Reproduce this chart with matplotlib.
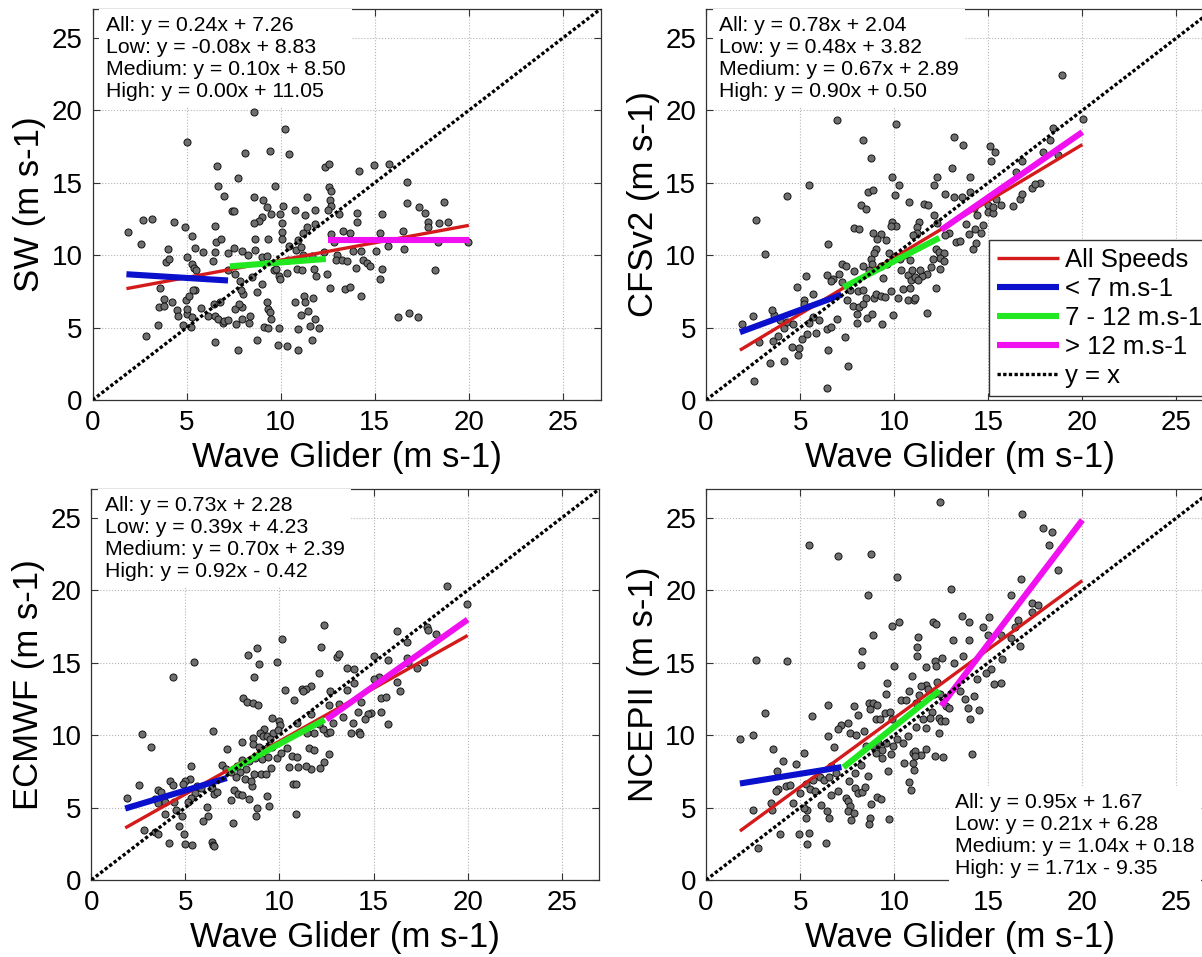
import numpy as np
import matplotlib
matplotlib.use('Agg')
import matplotlib.pyplot as plt

plt.rcParams['font.family'] = ['Liberation Sans', 'DejaVu Sans']

OUT_PNG = 'out.png'

XLABEL = 'Wave Glider (m s-1)'
YLABELS = ['SW (m s-1)', 'CFSv2 (m s-1)', 'ECMWF (m s-1)', 'NCEPII (m s-1)']
FIT_NAMES = ['All', 'Low', 'Medium', 'High']
LEGEND_LABELS = ['All Speeds', '< 7 m.s-1', '7 - 12 m.s-1', '> 12 m.s-1', 'y = x']
TICKS = [0, 5, 10, 15, 20, 25]

# x-range of each fitted segment: all, low, medium, high
FIT_RANGES = [(1.8, 20.0), (1.8, 7.2), (7.3, 12.4), (12.5, 20.0)]

# slope, intercept per segment (all, low, medium, high)
sw_fit = [(0.24, 7.26), (-0.08, 8.83), (0.10, 8.50), (0.00, 11.05)]
cfs_fit = [(0.78, 2.04), (0.48, 3.82), (0.67, 2.89), (0.90, 0.50)]
ecm_fit = [(0.73, 2.28), (0.39, 4.23), (0.70, 2.39), (0.92, -0.42)]
ncep_fit = [(0.95, 1.67), (0.21, 6.28), (1.04, 0.18), (1.71, -9.35)]

# (wave glider, model) pairs
sw_pts = [
    (8.6, 19.9), (10.21, 18.69), (5.0, 17.83), (8.1, 17.07), (9.41, 17.21), (10.43, 16.96), (6.61, 16.13),
    (7.74, 15.3), (6.65, 14.79), (9.72, 14.75), (7.0, 14.12), (8.56, 13.99), (9.08, 13.8), (7.39, 13.04),
    (7.5, 13.04), (9.27, 13.32), (10.12, 13.41), (9.47, 12.86), (9.95, 12.86), (8.99, 12.63), (8.83, 12.37),
    (8.58, 12.19), (10.05, 12.19), (10.74, 13.13), (2.7, 12.42), (3.14, 12.47), (4.33, 12.28), (1.9, 11.57),
    (4.93, 11.96), (6.51, 12.05), (2.59, 10.74), (5.28, 11.34), (6.56, 10.92), (6.81, 11.11), (8.62, 11.15),
    (9.34, 11.15), (10.05, 11.59), (10.05, 11.15), (10.9, 11.04), (11.19, 11.5), (3.99, 10.41), (5.0, 9.88),
    (5.46, 10.53), (5.89, 10.21), (6.49, 10.25), (7.22, 10.16), (7.5, 10.53), (7.94, 10.3), (8.63, 10.39),
    (8.28, 10.0), (8.99, 9.88), (9.27, 9.93), (3.88, 9.54), (4.08, 9.72), (5.3, 9.38), (6.38, 9.59),
    (5.39, 9.15), (5.5, 9.01), (3.58, 7.76), (5.44, 7.58), (5.32, 7.63), (4.98, 6.89), (5.14, 7.19),
    (3.81, 6.98), (3.53, 6.43), (3.79, 6.47), (4.24, 6.75), (4.47, 6.24), (4.56, 5.78), (5.0, 5.97),
    (5.04, 6.31), (5.27, 5.74), (5.76, 6.38), (6.15, 5.81), (6.44, 6.66), (6.77, 6.77), (6.51, 5.78),
    (6.68, 5.62), (6.95, 5.35), (6.99, 5.46), (7.2, 5.55), (5.25, 5.05), (4.82, 5.21), (3.49, 5.21),
    (2.85, 4.42), (6.51, 4.01), (7.73, 3.43), (7.62, 5.28), (7.93, 5.62), (8.33, 5.32), (8.37, 5.81),
    (7.59, 6.27), (7.96, 6.41), (7.78, 6.66), (8.01, 7.35), (7.85, 8.23), (7.89, 7.58), (8.76, 7.47),
    (9.27, 6.8), (9.31, 6.31), (9.45, 6.08), (9.49, 5.62), (9.1, 5.05), (9.31, 5.0), (8.76, 4.17),
    (9.89, 5.0), (9.84, 3.78), (10.35, 3.71), (10.92, 3.43), (10.76, 6.77), (11.06, 5.85), (10.94, 4.93),
    (9.63, 8.96), (9.89, 8.55), (9.96, 8.36), (10.32, 8.8), (9.77, 9.08), (10.85, 9.08), (10.41, 9.65),
    (11.15, 8.96), (11.17, 10.02), (10.83, 10.39), (10.44, 10.62), (11.1, 10.58), (8.46, 8.5), (7.57, 8.73),
    (7.22, 8.96), (9.0, 8.04), (12.35, 16.11), (12.58, 16.29), (14.16, 15.81), (14.95, 16.24), (15.77, 16.27),
    (16.71, 15.05), (12.56, 14.72), (12.65, 14.42), (11.41, 13.99), (12.6, 13.8), (12.67, 13.41), (11.81, 13.11),
    (11.28, 12.76), (12.51, 13.11), (13.11, 12.86), (14.06, 12.93), (15.41, 12.86), (14.04, 12.3), (16.74, 13.62),
    (17.35, 13.34), (17.69, 12.93), (18.68, 13.69), (17.83, 12.3), (17.83, 11.96), (18.42, 12.19), (18.88, 12.26),
    (11.83, 12.12), (11.41, 11.96), (12.65, 11.45), (13.29, 11.68), (13.67, 11.5), (15.28, 11.5), (16.48, 11.68),
    (18.35, 10.92), (19.98, 10.92), (12.83, 10.92), (12.97, 10.0), (12.92, 9.65), (13.86, 10.28), (14.25, 10.28),
    (15.05, 10.28), (15.68, 10.65), (16.58, 10.44), (13.27, 9.65), (13.54, 9.59), (13.99, 9.15), (14.4, 9.65),
    (14.58, 9.49), (14.76, 9.24), (15.41, 9.08), (15.28, 8.36), (18.2, 8.99), (12.62, 7.72), (13.4, 7.67),
    (13.67, 7.81), (14.25, 7.17), (16.25, 5.71), (16.81, 6.04), (17.31, 5.74), (11.67, 9.93), (12.3, 10.23),
    (12.44, 8.73), (11.76, 9.08), (11.89, 8.55), (11.25, 7.21), (11.28, 6.77), (11.71, 7.03), (11.46, 6.15),
    (11.83, 5.58), (11.57, 5.14), (12.06, 5.0), (11.69, 4.17),
]

cfs_pts = [
    (6.98, 19.35), (10.11, 19.08), (8.32, 17.92), (8.75, 16.74), (9.88, 15.38), (10.25, 14.83), (5.48, 14.83),
    (4.3, 14.11), (8.63, 14.34), (8.86, 14.5), (10.05, 14.18), (10.77, 13.67), (8.25, 13.44), (8.5, 13.21),
    (2.68, 12.4), (7.86, 11.89), (8.11, 11.78), (8.88, 11.52), (9.3, 11.45), (9.91, 12.26), (10.12, 12.03),
    (9.82, 12.01), (9.07, 11.09), (9.57, 11.02), (6.46, 10.74), (3.14, 10.09), (9.02, 10.46), (8.93, 10.12),
    (8.77, 9.72), (9.75, 10.12), (9.98, 9.88), (10.3, 9.72), (10.54, 10.0), (8.8, 9.38), (8.66, 9.01),
    (8.34, 9.26), (9.32, 9.26), (9.64, 9.4), (9.43, 8.43), (10.36, 8.96), (10.71, 8.61), (10.82, 9.7),
    (10.95, 8.96), (7.21, 9.4), (7.46, 9.26), (7.86, 8.89), (7.04, 8.71), (6.75, 8.38), (6.45, 8.64),
    (6.64, 8.24), (5.3, 8.59), (4.86, 7.78), (5.68, 7.34), (5.23, 6.93), (5.23, 6.65), (7.25, 8.13),
    (7.63, 7.58), (7.5, 6.93), (8.07, 7.53), (8.36, 7.62), (8.5, 7.02), (8.93, 7.07), (9.04, 7.34),
    (9.29, 7.21), (9.52, 7.11), (9.84, 7.51), (10.18, 7.04), (10.48, 7.64), (10.86, 7.74), (10.91, 8.27),
    (10.73, 6.88), (7.82, 6.47), (8.14, 6.42), (8.36, 6.65), (8.04, 5.96), (8.54, 5.66), (8.82, 5.96),
    (9.95, 5.89), (9.36, 5.27), (8.04, 5.29), (6.95, 5.59), (6.43, 4.9), (6.63, 5.01), (7.39, 4.32),
    (6.48, 3.42), (5.48, 5.33), (5.82, 4.6), (5.39, 4.55), (5.09, 4.2), (4.93, 3.58), (4.55, 3.65),
    (4.91, 3.12), (3.55, 4.11), (3.39, 2.59), (4.13, 2.68), (2.54, 1.29), (6.45, 0.83), (7.52, 2.33),
    (3.82, 4.43), (4.14, 4.97), (3.61, 5.84), (3.48, 6.19), (2.5, 5.8), (2.82, 4.04), (1.93, 5.27),
    (3.93, 5.5), (4.29, 5.38), (4.63, 5.27), (5.71, 5.73), (5.98, 5.5), (18.93, 22.47), (20.04, 19.4),
    (13.16, 18.13), (13.68, 17.64), (15.07, 17.55), (15.34, 17.16), (15.12, 16.47), (18.43, 18.75), (18.3, 17.94),
    (17.89, 17.11), (18.7, 16.93), (16.82, 16.49), (16.5, 15.73), (13.09, 16.05), (14.04, 15.43), (12.27, 15.38),
    (12.14, 14.85), (12.68, 14.2), (13.16, 14.04), (13.63, 14.04), (14.02, 14.34), (14.98, 13.49), (15.41, 13.86),
    (15.66, 13.46), (16.3, 13.42), (16.7, 13.86), (16.79, 14.2), (17.34, 14.67), (17.75, 14.99), (17.5, 14.9),
    (14.23, 13.23), (14.39, 12.77), (14.73, 12.1), (15.0, 12.98), (15.23, 12.93), (15.27, 13.35), (13.84, 12.15),
    (14.29, 11.78), (14.59, 11.55), (13.96, 11.45), (14.2, 10.42), (14.34, 10.85), (13.3, 10.9), (13.48, 10.97),
    (12.89, 11.5), (12.68, 11.39), (11.61, 13.51), (11.79, 13.46), (12.13, 12.77), (12.27, 12.19), (11.34, 12.31),
    (11.23, 11.96), (11.2, 11.5), (11.02, 11.39), (12.23, 10.46), (12.39, 10.23), (12.64, 10.12), (12.45, 9.82),
    (12.63, 9.58), (12.05, 9.77), (11.96, 9.19), (12.41, 9.05), (11.73, 8.71), (11.48, 8.55), (11.38, 8.96),
    (11.11, 8.5), (11.29, 8.27), (12.23, 7.76), (11.07, 6.88), (11.13, 7.07), (11.75, 6.0),
]

ecm_pts = [
    (10.12, 16.62), (8.81, 16.0), (8.35, 15.52), (8.9, 14.94), (9.89, 15.06), (5.48, 15.08), (4.32, 13.98),
    (8.63, 14.02), (8.08, 12.53), (8.26, 12.32), (8.6, 12.21), (8.88, 12.07), (10.27, 13.13), (10.79, 12.44),
    (11.21, 13.17), (9.59, 11.17), (9.95, 10.97), (10.05, 10.71), (10.91, 10.87), (2.69, 10.11), (6.49, 10.28),
    (3.15, 9.17), (7.22, 9.03), (8.01, 9.56), (8.59, 9.79), (9.17, 10.41), (8.96, 10.16), (9.11, 9.95),
    (9.36, 9.95), (9.63, 10.18), (9.93, 10.37), (9.48, 9.7), (8.61, 9.38), (8.93, 9.15), (9.31, 9.1),
    (9.59, 9.17), (9.88, 8.41), (10.09, 8.8), (10.39, 9.08), (10.69, 8.57), (10.94, 8.46), (10.52, 7.82),
    (10.96, 7.77), (10.73, 6.62), (10.87, 6.62), (10.87, 4.55), (8.03, 8.3), (8.38, 8.23), (8.7, 8.41),
    (9.09, 8.34), (9.38, 8.46), (9.56, 7.75), (9.04, 7.29), (9.27, 7.29), (8.65, 7.33), (8.24, 7.66),
    (7.92, 7.47), (7.69, 7.1), (7.4, 7.43), (6.96, 7.93), (7.14, 7.66), (8.52, 6.51), (7.56, 6.21),
    (7.79, 5.95), (8.0, 5.86), (8.38, 5.59), (7.4, 5.54), (8.81, 4.99), (9.43, 5.1), (9.36, 5.82),
    (8.74, 4.41), (7.53, 3.93), (5.28, 7.89), (5.27, 6.97), (5.62, 6.51), (5.85, 6.34), (6.42, 6.32),
    (6.53, 5.93), (6.69, 6.05), (5.5, 6.0), (5.32, 5.66), (5.14, 5.36), (5.0, 6.85), (4.88, 6.62),
    (4.2, 6.85), (4.32, 6.55), (3.54, 6.23), (3.68, 6.05), (3.4, 5.59), (3.54, 5.29), (2.54, 6.57),
    (1.87, 5.63), (3.93, 4.55), (4.48, 4.85), (6.14, 5.01), (6.21, 4.39), (5.91, 4.09), (2.81, 3.45),
    (3.36, 3.29), (3.54, 3.17), (4.11, 2.55), (4.93, 3.17), (4.96, 2.48), (5.37, 2.41), (6.42, 2.64),
    (6.48, 2.41), (6.53, 2.32), (4.82, 4.44), (4.64, 3.75), (4.38, 5.36), (3.93, 5.36), (7.76, 7.89),
    (8.17, 6.97), (8.51, 6.85), (18.88, 20.28), (19.98, 19.08), (12.39, 17.61), (12.23, 16.09), (13.05, 15.38),
    (13.14, 15.61), (12.11, 14.32), (13.61, 14.67), (13.96, 14.55), (13.96, 13.63), (15.02, 15.47), (15.75, 15.2),
    (16.25, 17.2), (16.8, 16.44), (17.82, 17.49), (17.89, 17.26), (18.32, 16.97), (16.77, 15.31), (16.84, 14.97),
    (17.29, 14.67), (17.68, 15.06), (16.25, 13.7), (16.41, 13.08), (15.3, 13.98), (15.02, 13.86), (15.41, 12.53),
    (15.68, 12.64), (15.41, 11.63), (15.75, 10.8), (14.86, 11.54), (14.68, 11.47), (14.52, 11.1), (14.16, 11.63),
    (14.34, 12.32), (13.57, 13.1), (13.14, 12.14), (13.39, 11.24), (13.91, 10.87), (13.8, 10.16), (14.23, 10.25),
    (14.3, 10.09), (12.68, 13.06), (12.63, 12.11), (12.82, 10.83), (12.5, 10.18), (12.66, 10.25), (12.32, 10.41),
    (12.11, 10.76), (11.84, 10.18), (11.7, 11.49), (11.68, 13.38), (11.39, 13.22), (11.25, 13.06), (11.46, 10.14),
    (11.55, 9.08), (11.84, 8.99), (12.63, 8.69), (12.34, 8.16), (12.16, 7.75), (11.68, 7.66), (11.43, 7.89),
]

ncep_pts = [
    (5.45, 23.13), (7.0, 22.38), (8.78, 22.5), (10.14, 20.93), (8.62, 19.7), (9.89, 17.57), (10.25, 17.8),
    (8.87, 16.88), (8.31, 15.81), (8.26, 14.86), (10.0, 14.79), (2.63, 15.21), (4.28, 15.14), (9.62, 13.63),
    (10.95, 14.05), (9.58, 12.87), (10.81, 13.06), (10.36, 12.41), (10.61, 12.45), (11.2, 12.25), (8.65, 12.22),
    (8.87, 12.22), (9.08, 12.11), (8.7, 11.78), (9.05, 11.09), (9.23, 11.11), (9.5, 11.55), (9.77, 11.6),
    (9.89, 11.09), (7.84, 12.04), (8.09, 11.37), (5.63, 11.32), (6.47, 12.06), (3.11, 11.55), (7.19, 10.72),
    (6.99, 10.44), (7.55, 10.86), (7.64, 10.12), (7.97, 9.98), (8.42, 10.28), (6.49, 9.93), (6.82, 9.17),
    (1.78, 9.7), (2.48, 9.98), (3.54, 9.03), (5.23, 8.8), (4.78, 7.99), (4.08, 8.24), (3.76, 7.5),
    (3.81, 6.3), (4.24, 6.46), (4.44, 6.53), (3.47, 5.3), (3.51, 4.84), (2.48, 4.84), (2.77, 2.22),
    (3.92, 3.17), (4.96, 3.19), (5.47, 3.22), (5.34, 2.48), (6.4, 2.57), (5.29, 4.31), (5.36, 4.84),
    (5.23, 4.95), (5.0, 6.0), (5.31, 6.64), (5.5, 6.3), (5.67, 6.92), (5.81, 6.11), (6.08, 7.08),
    (6.26, 6.92), (6.51, 7.08), (6.64, 7.85), (6.89, 7.38), (6.99, 6.11), (6.65, 5.88), (6.13, 5.19),
    (6.44, 4.79), (6.53, 4.26), (7.43, 5.65), (7.54, 5.42), (7.64, 5.14), (7.54, 4.79), (7.88, 4.61),
    (7.73, 4.14), (7.91, 6.34), (8.07, 6.0), (8.27, 6.04), (8.44, 6.41), (8.62, 7.2), (8.78, 5.25),
    (8.69, 4.26), (8.65, 3.84), (9.08, 5.72), (9.32, 5.58), (9.73, 4.19), (9.68, 7.5), (9.35, 8.4),
    (9.35, 9.0), (9.82, 8.7), (9.58, 9.47), (9.95, 9.24), (10.13, 9.75), (9.14, 9.47), (8.87, 9.24),
    (9.05, 8.77), (8.51, 9.24), (8.24, 7.96), (7.91, 7.38), (7.61, 6.81), (10.52, 8.08), (10.81, 6.74),
    (10.9, 6.18), (11.03, 7.62), (11.0, 8.77), (10.49, 9.47), (10.76, 9.93), (4.64, 5.3), (3.74, 6.11),
    (12.42, 26.13), (16.81, 25.28), (17.9, 24.33), (18.39, 24.05), (18.21, 23.13), (18.69, 21.39), (13.03, 20.12),
    (16.74, 20.81), (16.2, 19.65), (17.35, 19.12), (17.67, 18.96), (17.31, 18.5), (13.6, 18.22), (12.06, 17.8),
    (12.2, 17.69), (13.96, 17.8), (15.02, 18.17), (14.71, 17.45), (16.59, 17.92), (16.42, 17.45), (11.25, 16.81),
    (11.23, 16.11), (11.22, 15.49), (13.12, 16.6), (13.96, 16.6), (15.0, 16.94), (15.66, 16.88), (16.2, 16.71),
    (16.67, 16.18), (13.64, 15.49), (13.19, 14.98), (12.53, 15.32), (12.19, 15.12), (12.24, 14.75), (11.7, 14.68),
    (15.75, 15.25), (15.16, 14.56), (14.89, 14.28), (14.39, 13.91), (15.32, 13.52), (15.68, 13.63), (13.51, 13.08),
    (13.76, 12.48), (14.23, 12.71), (13.92, 11.85), (14.01, 11.09), (14.52, 11.74), (12.26, 13.7), (11.7, 13.47),
    (11.4, 13.36), (11.81, 13.17), (12.11, 12.82), (12.46, 12.82), (12.74, 12.01), (12.92, 11.9), (11.31, 12.8),
    (11.16, 12.25), (12.03, 11.62), (11.92, 11.2), (11.51, 11.13), (11.7, 10.49), (11.16, 10.56), (12.38, 11.2),
    (12.47, 10.97), (12.71, 10.99), (12.37, 10.16), (12.19, 8.54), (12.62, 8.47), (14.14, 8.7), (11.67, 9.05),
    (11.4, 8.66), (11.09, 8.89), (11.13, 8.59), (11.0, 8.08),
]

FIT_COLORS = ['#d41a1a', '#0a10cc', '#22e822', '#f010f0']
FIT_WIDTHS = [2.4, 4.4, 4.4, 4.4]


def fit_text(fit):
    rows = []
    for name, (a, b) in zip(FIT_NAMES, fit):
        sign = '+' if b >= 0 else '-'
        rows.append(f'{name}: y = {a:.2f}x {sign} {abs(b):.2f}')
    return '\n'.join(rows)


def draw_panel(ax, pts, fit, ylabel):
    xy = np.array(pts)
    ax.scatter(xy[:, 0], xy[:, 1], s=26, c='#6e6e6e', edgecolors='#141414', linewidths=0.7, zorder=3)
    handles = []
    for (a, b), (x0, x1), col, lw in zip(fit, FIT_RANGES, FIT_COLORS, FIT_WIDTHS):
        xs = np.array([x0, x1])
        h, = ax.plot(xs, a * xs + b, color=col, linewidth=lw, solid_capstyle='butt', zorder=4)
        handles.append(h)
    h, = ax.plot([0, 27], [0, 27], color='black', linewidth=2.4, linestyle=(0, (1.0, 0.7)), zorder=5)
    handles.append(h)

    ax.set_xlim(0, 27)
    ax.set_ylim(0, 27)
    ax.set_xticks(TICKS)
    ax.set_yticks(TICKS)
    ax.grid(True, linestyle=':', color='#b5b5b5', linewidth=0.8)
    ax.set_axisbelow(True)
    ax.tick_params(direction='in', length=5, top=True, right=True, labelsize=20, pad=7, color='#333333')
    for sp in ax.spines.values():
        sp.set_color('#333333')
        sp.set_linewidth(0.9)
    ax.set_xlabel(XLABEL, fontsize=25, labelpad=4)
    ax.set_ylabel(ylabel, fontsize=25, labelpad=4)
    return handles


def main():
    fig = plt.figure(figsize=(12.02, 9.57), dpi=100)
    w, h = 0.4226, 0.4086
    axes = [
        fig.add_axes([0.077, 0.582, w, h]),
        fig.add_axes([0.5874, 0.582, w, h]),
        fig.add_axes([0.076, 0.0805, w, h]),
        fig.add_axes([0.5874, 0.0805, w, h]),
    ]
    data = [(sw_pts, sw_fit), (cfs_pts, cfs_fit), (ecm_pts, ecm_fit), (ncep_pts, ncep_fit)]
    box = dict(boxstyle='square,pad=0.3', facecolor='white', edgecolor='none')
    for i, (ax, (pts, fit)) in enumerate(zip(axes, data)):
        handles = draw_panel(ax, pts, fit, YLABELS[i])
        if i < 3:
            ax.text(0.026, 0.983, fit_text(fit), transform=ax.transAxes, ha='left', va='top',
                    fontsize=15.3, linespacing=1.2, bbox=box, zorder=6)
        else:
            ax.text(0.49, 0.006, fit_text(fit), transform=ax.transAxes, ha='left', va='bottom',
                    fontsize=15.3, linespacing=1.2, bbox=box, zorder=6)
        if i == 1:
            leg = ax.legend(handles, LEGEND_LABELS, loc='lower right', fontsize=18.5, frameon=True,
                            fancybox=False, edgecolor='#333333', framealpha=1.0, handlelength=2.4,
                            handletextpad=0.25, labelspacing=0.2, borderpad=0.3, borderaxespad=0.15)
            leg.get_frame().set_linewidth(1.0)
            leg.set_zorder(7)

    fig.savefig(OUT_PNG, dpi=100)
    plt.close(fig)


if __name__ == '__main__':
    main()
